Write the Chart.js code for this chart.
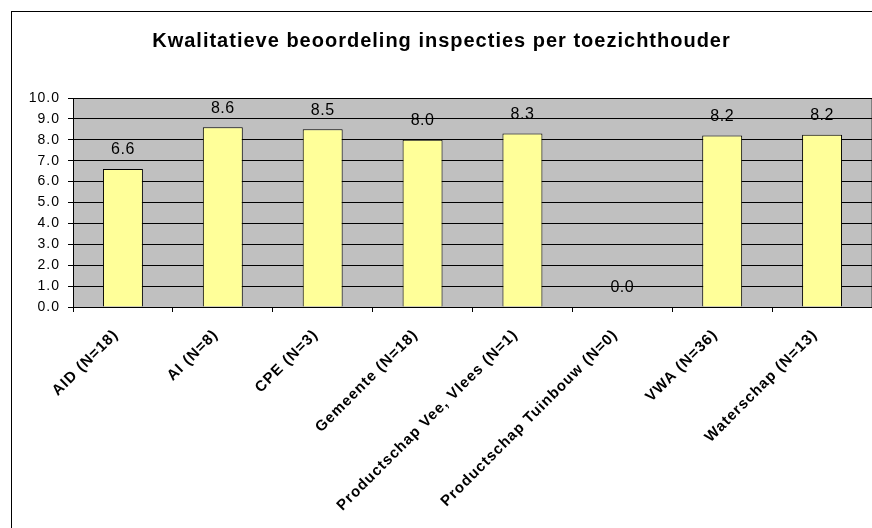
<!DOCTYPE html>
<html>
<head>
<meta charset="utf-8">
<script src="https://cdn.jsdelivr.net/npm/chart.js@4"></script>
<style>
  html, body { margin: 0; padding: 0; background: #fff; }
  #wrap { width: 872px; height: 528px; }
</style>
</head>
<body>
<div id="wrap"><canvas id="scoreChart" width="872" height="528"></canvas></div>
<script>
// categorieen en gemiddelde scores
const categories = [
    'AID (N=18)', 'AI (N=8)', 'CPE (N=3)', 'Gemeente (N=18)',
    'Productschap Vee, Vlees (N=1)', 'Productschap Tuinbouw (N=0)',
    'VWA (N=36)', 'Waterschap (N=13)'
];
const scores = [6.6, 8.6, 8.5, 8.0, 8.3, 0.0, 8.2, 8.24];
const yTicks = [0, 1, 2, 3, 4, 5, 6, 7, 8, 9, 10];

const FONT = 'Arial, "Liberation Sans", sans-serif';

// tekst in het origineel is iets breder, dus wat letterafstand
const spacing = {
    id: 'spacing',
    beforeInit(chart) { chart.ctx.letterSpacing = '1px'; },
    beforeLayout(chart) { chart.ctx.letterSpacing = '1px'; },
    beforeDraw(chart) { chart.ctx.letterSpacing = '1px'; }
};

// grijze achtergrond van het plotgebied + kader
const plotBackground = {
    id: 'plotBackground',
    beforeDraw(chart) {
        const { ctx, chartArea: a } = chart;
        ctx.save();
        ctx.fillStyle = '#fff';
        ctx.fillRect(0, 0, chart.width, chart.height);
        ctx.strokeStyle = '#000';
        ctx.lineWidth = 1;
        ctx.strokeRect(11.5, 11.5, chart.width, chart.height);
        ctx.fillStyle = '#c0c0c0';
        ctx.fillRect(a.left, a.top, a.right - a.left, a.bottom - a.top);
        ctx.strokeStyle = '#808080';
        ctx.beginPath();
        ctx.moveTo(a.left, a.top + 0.5);
        ctx.lineTo(a.right - 0.5, a.top + 0.5);
        ctx.lineTo(a.right - 0.5, a.bottom);
        ctx.stroke();
        ctx.restore();
    }
};

// waarden boven de staven
const valueLabels = {
    id: 'valueLabels',
    afterDatasetsDraw(chart) {
        const { ctx } = chart;
        const meta = chart.getDatasetMeta(0);
        ctx.save();
        ctx.font = '16px ' + FONT;
        ctx.letterSpacing = '0.5px';
        ctx.fillStyle = '#000';
        ctx.textAlign = 'center';
        ctx.textBaseline = 'middle';
        meta.data.forEach((bar, i) => {
            ctx.fillText(scores[i].toFixed(1), bar.x, bar.y - 19);
        });
        ctx.restore();
    }
};

const ctx = document.getElementById('scoreChart').getContext('2d');
ctx.letterSpacing = '1px';
new Chart(ctx, {
    type: 'bar',
    data: {
        labels: categories,
        datasets: [{
            data: scores,
            backgroundColor: '#ffff99',
            borderColor: '#000',
            borderWidth: 1,
            barPercentage: 0.4,
            categoryPercentage: 1.0
        }]
    },
    options: {
        responsive: false,
        animation: false,
        events: [],
        layout: { padding: { left: 11, right: 0, top: 0, bottom: 0 } },
        plugins: {
            legend: { display: false },
            tooltip: { enabled: false },
            title: {
                display: true,
                text: 'Kwalitatieve beoordeling inspecties per toezichthouder',
                color: '#000',
                font: { family: FONT, size: 20, weight: 'bold' },
                padding: { top: 29, bottom: 45 }
            }
        },
        scales: {
            x: {
                grid: {
                    offset: true,
                    drawOnChartArea: false,
                    drawTicks: true,
                    tickLength: 5,
                    color: '#000'
                },
                border: { color: '#000' },
                ticks: {
                    autoSkip: false,
                    maxRotation: 45,
                    minRotation: 45,
                    padding: 14,
                    labelOffset: -7,
                    color: '#000',
                    font: { family: FONT, size: 15, weight: 'bold' }
                },
                afterFit(scale) { scale.height = 221; }
            },
            y: {
                min: 0,
                max: 10,
                afterBuildTicks(scale) {
                    scale.ticks = yTicks.map(v => ({ value: v }));
                },
                grid: { color: '#000', tickLength: 5 },
                border: { color: '#000' },
                ticks: {
                    padding: 8,
                    color: '#000',
                    font: { family: FONT, size: 14 },
                    callback: v => v.toFixed(1)
                },
                afterFit(scale) { scale.width = 62; }
            }
        }
    },
    plugins: [spacing, plotBackground, valueLabels]
});
</script>
</body>
</html>
